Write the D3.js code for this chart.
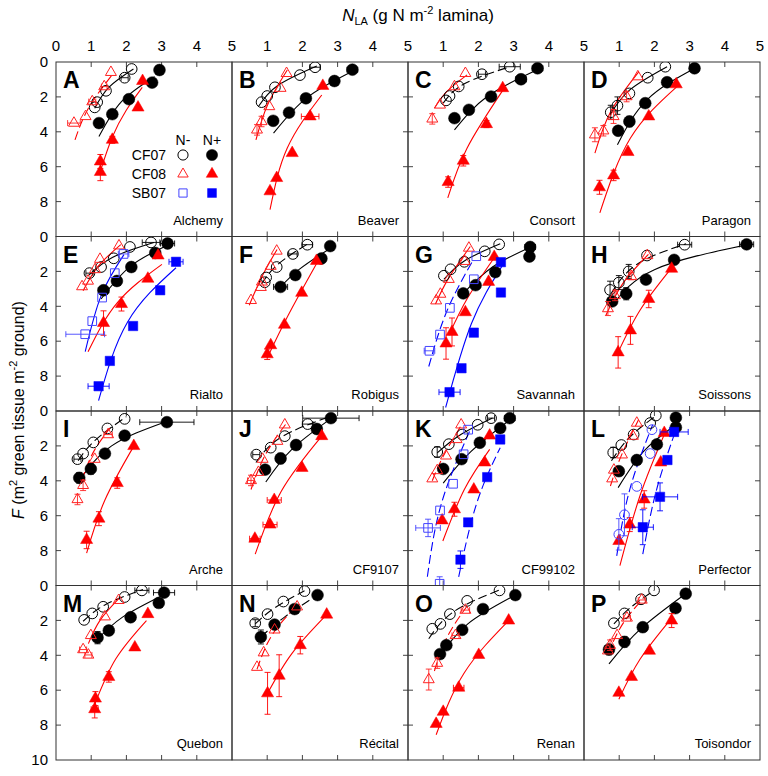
<!DOCTYPE html>
<html>
<head>
<meta charset="utf-8">
<script src="https://cdn.jsdelivr.net/npm/d3@7"></script>
<style>
  body { margin: 0; background: #fff; }
  svg { font-family: 'Liberation Sans', Arial, sans-serif; }
</style>
</head>
<body>
<div id="chart"></div>
<script>
const letters = ['A','B','C','D','E','F','G','H','I','J','K','L','M','N','O','P']
const cultivars = ['Alchemy','Beaver','Consort','Paragon','Rialto','Robigus','Savannah','Soissons',
  'Arche','CF9107','CF99102','Perfector','Quebon','Récital','Renan','Toisondor']
const xTicks = [0, 1, 2, 3, 4, 5]
const yTicks = [0, 2, 4, 6, 8]

// points: [N_LA, F, xerr, yerr]
const cf07Neg = [
  [[2.15,0.4],[1.95,0.9,0.1],[1.42,1.65],[1.17,2.3],[1.1,2.6]],
  [[2.36,0.3,0.15],[1.93,0.75],[1.22,1.45],[1.0,1.95],[0.84,2.3]],
  [[2.89,0.27,0.3],[2.1,0.7,0.1],[1.44,1.4],[1.18,1.95],[1.08,2.2]],
  [[2.31,0.27],[1.81,0.9],[1.29,1.8],[0.95,2.5,0,0.5],[0.76,2.88,0,0.4]],
  [[2.7,0.34,0.25],[2.1,0.6],[1.64,1.25],[1.28,1.75],[0.95,2.1,0.1]],
  [[2.14,0.47,0.15],[1.73,1.0,0.12],[1.27,1.75],[0.97,2.35],[0.93,2.62]],
  [[2.59,0.45],[2.18,0.85],[1.6,1.45],[1.21,1.88],[1.02,2.25]],
  [[2.86,0.47,0.2],[1.79,1.09],[1.27,2.0,0,0.4],[0.99,2.64,0,0.4],[0.74,3.06,0,0.5]],
  [[1.95,0.45],[1.46,1.0],[1.06,1.8],[0.77,2.44],[0.61,2.76,0.1]],
  [[2.15,0.75,0.15],[1.5,1.44],[1.1,2.1],[0.69,2.5,0.1]],
  [[2.36,0.41,0.1],[1.98,0.79],[1.54,1.35],[1.16,1.9],[0.83,2.35,0,0.3]],
  [[2.04,0.26],[1.88,0.69],[1.41,1.35],[1.06,1.95],[0.83,2.38,0,0.3]],
  [[2.44,0.28,0.2],[1.95,0.66],[1.34,1.22],[1.03,1.6],[0.8,1.97]],
  [[2.06,0.32],[1.46,0.92],[1.01,1.64],[0.66,2.16,0,0.2]],
  [[2.6,0.28],[1.68,0.88],[1.19,1.64],[0.92,2.2],[0.69,2.48]],
  [[1.99,0.28],[1.62,0.79],[1.15,1.6],[0.85,2.16]]
]
const cf07Pos = [
  [[2.94,0.46],[2.73,1.18],[2.07,2.13],[1.6,2.99],[1.22,3.5]],
  [[3.42,0.44,0.15],[2.91,1.09],[2.1,2.08],[1.62,2.9],[1.17,3.37]],
  [[3.68,0.36,0.15],[3.21,0.99,0.15],[2.36,1.98],[1.73,2.74,0.12],[1.32,3.22]],
  [[3.14,0.36,0.1],[2.36,1.16],[1.74,2.36],[1.29,3.41,0,0.3],[0.97,3.94]],
  [[3.17,0.4,0.2],[2.82,0.94],[2.14,1.75],[1.73,2.55],[1.35,3.08,0.15]],
  [[2.79,0.55],[2.54,1.26],[1.8,2.21],[1.38,2.89,0.2]],
  [[3.47,0.6,0.15],[3.45,1.15],[2.48,2.04,0.1],[1.92,2.79],[1.57,3.26]],
  [[4.62,0.45,0.2],[2.56,1.34,0.1],[1.76,2.47],[1.2,3.28,0,0.35],[0.8,3.72]],
  [[3.15,0.64,0.77],[1.95,1.41],[1.39,2.44],[0.99,3.32,0,0.3],[0.66,3.83,0,0.3]],
  [[2.81,0.41,0.8],[2.41,1.03],[1.82,1.95],[1.38,2.72,0,0.3],[0.94,3.36]],
  [[2.89,0.41,0.15],[2.62,0.98],[2.04,1.82],[1.52,2.76],[1.0,3.32]],
  [[2.61,0.38,0.1],[2.61,0.94],[2.07,1.91],[1.5,2.81],[0.99,3.45]],
  [[3.07,0.41,0.3],[2.92,1.0],[2.12,1.82,0.1],[1.5,2.58,0,0.25],[1.18,2.99,0,0.35]],
  [[2.43,0.55,0.1],[1.78,1.35],[1.21,2.24],[0.82,2.95,0,0.4]],
  [[3.05,0.55],[2.13,1.35],[1.54,2.54],[1.09,3.42],[0.91,3.93]],
  [[2.89,0.47],[2.6,1.3],[1.67,2.39],[1.15,3.23,0,0.3],[0.71,3.67,0,0.3]]
]
const cf08Neg = [
  [[1.56,0.59],[1.37,1.41,0.08],[1.03,2.27,0.1],[0.84,3.12],[0.51,3.5,0.18]],
  [[1.55,0.65],[1.38,1.5],[1.06,2.55],[0.84,3.41,0,0.3],[0.71,3.89,0,0.3]],
  [[1.63,0.65],[1.32,1.41],[0.91,2.46],[0.69,3.26,0,0.3]],
  [[1.53,0.84],[1.21,1.98,0,0.3],[0.84,3.12,0,0.4],[0.55,3.94,0,0.3],[0.31,4.17,0,0.4]],
  [[1.79,0.53],[1.25,1.3],[1.11,1.89],[0.91,2.55],[0.74,2.87]],
  [[1.27,0.83],[1.1,1.7],[0.85,2.6],[0.82,2.91],[0.54,3.66]],
  [[1.73,0.66],[1.61,1.42],[1.16,2.45],[0.92,3.3],[0.8,3.68]],
  [[1.8,1.09],[1.34,2.28,0,0.2],[0.88,3.38,0,0.3],[0.68,4.13,0,0.4]],
  [[1.48,1.35,0.12],[1.1,2.76],[0.77,4.26,0,0.3],[0.61,5.07,0,0.3]],
  [[1.5,0.79],[1.29,1.73],[0.87,2.76],[0.75,3.51],[0.54,3.98,0.1,0.3]],
  [[1.51,0.79],[1.38,1.63],[1.08,2.57],[0.83,3.41],[0.69,3.88]],
  [[1.5,0.69],[1.39,1.44],[1.08,2.51],[0.85,3.38],[0.8,3.88]],
  [[1.78,0.85],[1.39,1.79],[0.99,2.86],[0.77,3.67,0.1],[0.92,3.98,0.1]],
  [[1.85,1.22],[1.21,2.54],[0.9,3.85],[0.71,4.68]],
  [[1.63,1.41,0.12],[1.35,2.86,0.1],[0.83,4.45,0,0.3],[0.59,5.39,0,0.6]],
  [[1.64,0.83,0.1],[1.22,1.86,0.1],[0.94,2.86],[0.74,3.42,0,0.3],[0.68,3.74]]
]
const cf08Pos = [
  [[2.46,1.09],[2.33,2.61],[1.6,4.46,0,0.2],[1.26,5.7,0,0.4],[1.26,6.3,0,0.5]],
  [[2.58,1.37],[2.22,3.12,0.25],[1.71,5.22],[1.27,6.65],[1.08,7.41]],
  [[2.69,1.5],[2.23,3.56,0,0.2],[1.57,5.66,0,0.3],[1.14,6.88,0,0.3]],
  [[2.62,1.28],[1.84,3.12],[1.25,5.16],[0.84,6.5,0,0.3],[0.44,7.18,0,0.4]],
  [[2.9,1.09],[2.61,2.42],[1.86,3.87,0,0.4],[1.35,4.96,0,0.7]],
  [[2.4,1.4],[1.98,3.23],[1.49,5.06],[1.1,6.23],[1.0,6.75,0,0.3]],
  [[2.45,1.17],[2.29,2.6],[1.63,4.34],[1.25,5.47,0,0.8],[1.08,6.13,0,0.9]],
  [[2.49,1.85],[1.84,3.58,0,0.5],[1.32,5.38,0,0.8],[0.97,6.64,0,0.9]],
  [[2.21,2.01],[1.74,4.13,0,0.3],[1.22,6.17,0,0.4],[0.87,7.39,0,0.5]],
  [[2.55,1.44],[1.99,3.26],[1.2,5.1,0.2],[1.08,6.51,0.2],[0.65,7.32,0.15]],
  [[2.32,1.41],[2.18,2.95],[1.87,4.5],[1.32,5.63,0,0.4],[0.97,6.27]],
  [[2.28,1.26],[2.18,2.95],[1.71,5.07,0,0.5],[1.3,6.51,0,0.4],[0.99,7.45]],
  [[2.61,1.64],[2.24,3.55],[1.5,5.24,0,0.3],[1.12,6.48,0,0.4],[1.1,7.09,0.1,0.5]],
  [[2.69,1.67],[1.94,3.42,0,0.5],[1.34,5.17,0,1.2],[1.01,6.18,0,1.2]],
  [[2.86,2.01],[2.01,3.98],[1.44,5.86,0.15],[1.0,7.24],[0.8,7.93]],
  [[2.49,2.01,0,0.4],[1.86,3.74],[1.35,5.24],[0.99,6.15]]
]
// SB07 only measured for Rialto, Savannah, CF99102, Perfector
const sb07Neg = [null,null,null,null,
  [[1.92,1.0,0.15],[1.67,2.1],[1.31,3.5],[1.03,4.85],[0.83,5.6,0.55]],
  null,
  [[1.94,1.13],[1.87,2.45],[1.19,4.09],[0.91,5.62],[0.61,6.55,0.15]],
  null,null,null,
  [[1.71,1.07],[1.58,2.48],[1.28,4.17],[0.91,5.7],[0.57,6.7,0.35,0.5],[0.9,9.9,0,0.4]],
  [[1.93,1.07],[1.88,2.44],[1.5,4.32],[1.15,5.95,0,1.2],[0.99,7.07,0,0.9]],
  null,null,null,null]
const sb07Pos = [null,null,null,null,
  [[3.41,1.45,0.2],[2.96,3.08],[2.19,5.13],[1.53,7.13],[1.21,8.58,0.3]],
  null,
  [[2.64,1.47],[2.64,3.21],[1.87,5.51],[1.52,7.55],[1.18,8.92,0.3]],
  null,null,null,
  [[2.62,1.63],[2.25,3.79],[1.71,6.38],[1.49,8.52,0,0.5]],
  [[2.56,1.2,0.4],[2.37,2.81],[2.16,4.92,0.5,0.8],[1.67,6.66,0.3,1.0]],
  null,null,null,null]

// fitted curves
const cf07NegFit = [
  [[1.1,2.65],[1.5,1.45],[2.2,0.4]], [[0.75,2.55],[1.3,1.35],[2.41,0.23]],
  [[1.0,2.36],[1.6,1.25],[2.9,0.27]], [[0.74,3.03],[1.3,1.6],[2.36,0.27]],
  [[0.91,2.26],[1.6,1.2],[2.78,0.34]], [[0.84,2.72],[1.3,1.6],[2.17,0.4]],
  [[1.02,2.45],[1.6,1.4],[2.62,0.42]], [[0.76,3.3],[1.5,1.6],[2.9,0.42]],
  [[0.63,2.85],[1.1,1.7],[2.0,0.32]], [[0.68,2.95],[1.4,1.5],[2.86,0.26]],
  [[0.83,2.4],[1.5,1.35],[2.4,0.4]], [[0.78,2.85],[1.3,1.5],[2.07,0.23]],
  [[0.77,2.05],[1.4,1.1],[2.47,0.23]], [[0.66,2.2],[1.2,1.3],[2.06,0.3]],
  [[0.59,3.05],[1.3,1.5],[2.64,0.23]], [[0.85,2.2],[1.3,1.3],[1.99,0.28]]
]
const cf07PosFit = [
  [[1.22,4.27],[1.86,2.27],[2.8,0.84]], [[1.18,4.08],[2.13,2.04],[3.44,0.51]],
  [[1.32,3.89],[2.25,1.98],[3.66,0.46]], [[0.95,4.74],[1.79,2.17],[3.15,0.36]],
  [[1.28,3.58],[2.12,1.7],[3.2,0.47]], [[1.28,3.1],[1.9,1.9],[2.82,0.64]],
  [[1.55,3.3],[2.4,1.75],[3.49,0.6]], [[0.8,3.96],[2.0,1.9],[4.63,0.47]],
  [[0.66,3.98],[1.58,2.0],[3.08,0.64]], [[0.96,4.07],[1.7,2.2],[2.83,0.41]],
  [[1.0,4.13],[1.8,2.3],[2.89,0.51]], [[0.97,4.39],[1.7,2.3],[2.61,0.79]],
  [[1.15,3.14],[1.9,1.8],[3.08,0.51]], [[0.82,2.95],[1.5,1.8],[2.43,0.55]],
  [[0.91,4.08],[1.7,2.2],[3.05,0.55]], [[0.71,4.49],[1.6,2.5],[2.89,0.47]]
]
const cf08NegFit = [
  [[0.54,4.46],[0.92,2.65],[1.58,0.78]], [[0.68,4.46],[1.01,2.46],[1.57,0.46]],
  [[0.75,2.65],[1.1,1.7],[1.68,0.74]], [[0.31,5.22],[0.76,2.84],[1.56,0.55]],
  [[0.77,3.11],[1.2,1.7],[1.84,0.47]], [[0.49,3.94],[0.85,2.3],[1.28,0.74]],
  [[0.78,3.87],[1.15,2.4],[1.77,0.57]], [[0.62,4.53],[1.1,2.7],[1.83,1.02]],
  [[0.73,3.98],[1.05,2.4],[1.53,0.98]], [[0.54,4.5],[0.95,2.5],[1.57,0.64]],
  [[0.69,4.0],[1.0,2.6],[1.55,0.7]], [[0.75,4.3],[1.05,2.6],[1.55,0.5]],
  [[0.92,3.33],[1.25,2.0],[1.81,0.7]], [[0.71,4.8],[1.15,2.8],[1.9,1.05]],
  [[0.75,4.9],[1.1,3.0],[1.68,1.17]], [[0.68,3.9],[1.1,2.2],[1.68,0.75]]
]
const cf08PosFit = [
  [[1.27,6.2],[1.6,4.3],[2.0,2.75],[2.45,1.45]], [[1.08,8.46],[1.57,4.93],[2.55,1.89]],
  [[1.13,7.79],[1.68,4.93],[2.7,1.6]], [[0.45,8.65],[1.32,4.36],[2.64,1.41]],
  [[0.91,6.6],[1.75,3.77],[3.01,1.6]], [[1.0,6.96],[1.6,4.5],[2.42,1.49]],
  [[1.16,5.66],[1.7,3.5],[2.48,1.13]], [[0.97,6.64],[1.6,4.2],[2.49,1.8]],
  [[0.87,8.14],[1.39,5.1],[2.24,1.91]], [[0.66,8.2],[1.4,4.6],[2.55,1.44]],
  [[0.99,7.45],[1.6,4.5],[2.32,2.2]], [[1.02,8.86],[1.6,4.8],[2.3,1.26]],
  [[1.1,6.8],[1.7,4.2],[2.57,2.01]], [[1.01,6.18],[1.7,3.9],[2.69,1.67]],
  [[0.8,8.55],[1.6,5.0],[2.86,2.01]], [[0.99,6.52],[1.6,4.2],[2.51,1.82]]
]
const sb07NegFit = [null,null,null,null,
  [[0.83,6.6],[1.28,3.4],[1.93,1.04]], null,
  [[0.59,7.45],[1.1,4.3],[1.85,1.35]], null, null, null,
  [[0.55,9.5],[0.95,5.3],[1.77,1.07]],
  [[0.93,8.3],[1.3,4.5],[1.95,0.79]],
  null,null,null,null]
const sb07PosFit = [null,null,null,null,
  [[1.21,9.4],[2.03,4.91],[3.41,1.79]], null,
  [[1.07,9.8],[1.8,5.0],[2.67,1.7]], null, null, null,
  [[1.44,9.5],[1.95,5.3],[2.62,2.1]],
  [[1.67,8.2],[2.05,4.6],[2.58,1.26]],
  null,null,null,null]

// which fitted lines are drawn dashed
const dashedFits = ['A:cf08Neg','C:cf07Neg','F:cf07Neg','G:sb07Neg','H:cf07Neg',
  'I:cf07Neg','I:cf08Neg','J:cf07Neg','J:cf08Neg','K:cf08Neg','K:sb07Neg','K:sb07Pos',
  'L:cf07Neg','L:cf08Neg','L:sb07Neg','L:sb07Pos','M:cf07Neg','N:cf07Neg','N:cf07Pos',
  'N:cf08Neg','O:cf07Neg','O:cf08Neg','P:cf07Neg','P:cf08Neg']

const margin = { top: 62, left: 56 }
const pw = 176
const ph = 174.5

const svg = d3.select('#chart')
  .append('svg')
  .attr('width', 768)
  .attr('height', 776)

const xPositionScale = d3.scaleLinear().domain([0, 5]).range([0, pw])
const yPositionScale = d3.scaleLinear().domain([0, 10]).range([0, ph])

const series = [
  { key: 'cf07Neg', pts: cf07Neg, fit: cf07NegFit, shape: d3.symbolCircle, size: 90, color: '#000', fill: 'none', line: '#000' },
  { key: 'cf07Pos', pts: cf07Pos, fit: cf07PosFit, shape: d3.symbolCircle, size: 110, color: '#000', fill: '#000', line: '#000' },
  { key: 'cf08Neg', pts: cf08Neg, fit: cf08NegFit, shape: d3.symbolTriangle, size: 52, color: '#f22', fill: 'none', line: '#f00' },
  { key: 'cf08Pos', pts: cf08Pos, fit: cf08PosFit, shape: d3.symbolTriangle, size: 64, color: '#f00', fill: '#f00', line: '#f00' },
  { key: 'sb07Neg', pts: sb07Neg, fit: sb07NegFit, shape: d3.symbolSquare, size: 75, color: '#44f', fill: 'none', line: '#00f' },
  { key: 'sb07Pos', pts: sb07Pos, fit: sb07PosFit, shape: d3.symbolSquare, size: 88, color: '#00f', fill: '#00f', line: '#00f' }
]

const line = d3.line()
  .x(d => xPositionScale(d[0]))
  .y(d => yPositionScale(d[1]))
  .curve(d3.curveNatural)

letters.forEach(function(letter, i) {
  const col = i % 4
  const row = Math.floor(i / 4)
  const g = svg.append('g')
    .attr('transform', 'translate(' + (margin.left + col * pw) + ',' + (margin.top + row * ph) + ')')

  // ticks inside the panel
  const inner = [1, 2, 3, 4]
  g.selectAll('.xt-top').data(inner).enter().append('line')
    .attr('x1', d => xPositionScale(d)).attr('x2', d => xPositionScale(d))
    .attr('y1', 0).attr('y2', 5).attr('stroke', '#444')
  g.selectAll('.xt-bot').data(inner).enter().append('line')
    .attr('x1', d => xPositionScale(d)).attr('x2', d => xPositionScale(d))
    .attr('y1', ph).attr('y2', ph - 5).attr('stroke', '#444')
  const side = (col % 2 === 0) ? 0 : pw
  const dir = (col % 2 === 0) ? 5 : -5
  g.selectAll('.yt').data([2, 4, 6, 8]).enter().append('line')
    .attr('x1', side).attr('x2', side + dir)
    .attr('y1', d => yPositionScale(d)).attr('y2', d => yPositionScale(d))
    .attr('stroke', '#444')

  const clip = g.append('clipPath').attr('id', 'clip' + i)
  clip.append('rect').attr('width', pw).attr('height', ph)
  const plot = g.append('g').attr('clip-path', 'url(#clip' + i + ')')

  // fitted curves
  series.forEach(function(s) {
    const f = s.fit[i]
    if (!f) return
    plot.append('path')
      .datum(f)
      .attr('d', line)
      .attr('fill', 'none')
      .attr('stroke', s.line)
      .attr('stroke-width', 1.1)
      .attr('stroke-dasharray', dashedFits.indexOf(letter + ':' + s.key) >= 0 ? '9,4' : null)
  })

  // error bars + markers
  series.forEach(function(s) {
    const pts = s.pts[i]
    if (!pts) return
    const eg = plot.append('g').attr('stroke', s.color).attr('stroke-width', 0.9)
    pts.forEach(function(p) {
      const cx = xPositionScale(p[0])
      const cy = yPositionScale(p[1])
      if (p[2]) {
        const x0 = xPositionScale(p[0] - p[2])
        const x1 = xPositionScale(p[0] + p[2])
        eg.append('line').attr('x1', x0).attr('x2', x1).attr('y1', cy).attr('y2', cy)
        eg.append('line').attr('x1', x0).attr('x2', x0).attr('y1', cy - 3).attr('y2', cy + 3)
        eg.append('line').attr('x1', x1).attr('x2', x1).attr('y1', cy - 3).attr('y2', cy + 3)
      }
      if (p[3]) {
        const y0 = yPositionScale(p[1] - p[3])
        const y1 = yPositionScale(p[1] + p[3])
        eg.append('line').attr('x1', cx).attr('x2', cx).attr('y1', y0).attr('y2', y1)
        eg.append('line').attr('x1', cx - 3).attr('x2', cx + 3).attr('y1', y0).attr('y2', y0)
        eg.append('line').attr('x1', cx - 3).attr('x2', cx + 3).attr('y1', y1).attr('y2', y1)
      }
    })
    // Perfector's SB07 N- points are drawn as circles
    const shape = (letter === 'L' && s.key === 'sb07Neg') ? d3.symbolCircle : s.shape
    plot.selectAll('.m-' + s.key)
      .data(pts)
      .enter()
      .append('path')
      .attr('class', 'm-' + s.key)
      .attr('d', d3.symbol().type(shape).size(s.size))
      .attr('transform', d => 'translate(' + xPositionScale(d[0]) + ',' + yPositionScale(d[1]) + ')')
      .attr('fill', s.fill === 'none' ? 'none' : s.fill)
      .attr('stroke', s.color)
      .attr('stroke-width', s.fill === 'none' ? 1 : 0.5)
  })

  g.append('rect')
    .attr('width', pw).attr('height', ph)
    .attr('fill', 'none').attr('stroke', '#333').attr('stroke-width', 1)

  g.append('text')
    .attr('x', 7).attr('y', 26)
    .text(letter)
    .style('font-size', '23px')
    .style('font-weight', 'bold')

  g.append('text')
    .attr('x', pw - 9).attr('y', ph - 12)
    .attr('text-anchor', 'end')
    .text(cultivars[i])
    .style('font-size', '13px')

  // top axis labels on first row
  if (row === 0) {
    g.selectAll('.xl').data(col === 0 ? xTicks : xTicks.slice(1)).enter().append('text')
      .attr('x', d => xPositionScale(d))
      .attr('y', -11)
      .attr('text-anchor', 'middle')
      .text(d => d)
      .style('font-size', '15px')
  }
  if (col === 0) {
    const yl = row === 3 ? yTicks.concat([10]) : yTicks
    g.selectAll('.yl').data(yl).enter().append('text')
      .attr('x', -8)
      .attr('y', d => yPositionScale(d))
      .attr('dy', '0.35em')
      .attr('text-anchor', 'end')
      .text(d => d)
      .style('font-size', '15px')
  }

  // legend in panel A
  if (i === 0) {
    const lg = g.append('g').style('font-size', '14px')
    lg.append('text').attr('x', 127).attr('y', 83).attr('text-anchor', 'middle').text('N-')
    lg.append('text').attr('x', 156).attr('y', 83).attr('text-anchor', 'middle').text('N+')
    const rows = [['CF07', 0, 1], ['CF08', 2, 3], ['SB07', 4, 5]]
    rows.forEach(function(r, k) {
      const ly = 93 + k * 19
      lg.append('text').attr('x', 110).attr('y', ly).attr('dy', '0.35em')
        .attr('text-anchor', 'end').text(r[0])
      ;[r[1], r[2]].forEach(function(si, j) {
        const s = series[si]
        lg.append('path')
          .attr('d', d3.symbol().type(s.shape).size(s.size * 0.9))
          .attr('transform', 'translate(' + (127 + j * 29) + ',' + ly + ')')
          .attr('fill', s.fill)
          .attr('stroke', s.color)
          .attr('stroke-width', s.fill === 'none' ? 1 : 0.5)
      })
    })
  }
})

// axis titles
const xt = svg.append('text')
  .attr('x', 418).attr('y', 21)
  .attr('text-anchor', 'middle')
  .style('font-size', '17px')
xt.append('tspan').style('font-style', 'italic').text('N')
xt.append('tspan').attr('dy', 4).style('font-size', '11px').text('LA')
xt.append('tspan').attr('dy', -4).text(' (g N m')
xt.append('tspan').attr('dy', -7).style('font-size', '11px').text('-2')
xt.append('tspan').attr('dy', 7).text(' lamina)')

const yt = svg.append('text')
  .attr('transform', 'translate(24,410) rotate(-90)')
  .attr('text-anchor', 'middle')
  .style('font-size', '16px')
yt.append('tspan').style('font-style', 'italic').text('F')
yt.append('tspan').text(' (m')
yt.append('tspan').attr('dy', -7).style('font-size', '11px').text('2')
yt.append('tspan').attr('dy', 7).text(' green tissue m')
yt.append('tspan').attr('dy', -7).style('font-size', '11px').text('-2')
yt.append('tspan').attr('dy', 7).text(' ground)')
</script>
</body>
</html>
